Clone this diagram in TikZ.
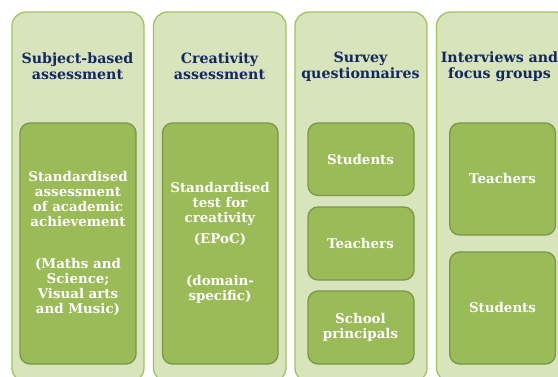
\documentclass[tikz,border=0pt]{standalone}
\usepackage{fontspec}
\setmainfont{DejaVu Serif}
\definecolor{outerfill}{HTML}{D8E4BC}
\definecolor{outerline}{HTML}{A3C162}
\definecolor{innerfill}{HTML}{9BBB59}
\definecolor{innerline}{HTML}{7A9646}
\definecolor{headtext}{HTML}{14285F}
\tikzset{
 x=1pt,y=-1pt,
 outerbox/.style={draw=outerline,fill=outerfill,line width=1.3pt,rounded corners=14pt},
 innerbox/.style={draw=innerline,fill=innerfill,line width=1.3pt,rounded corners=10pt},
 headlabel/.style={align=center,text=headtext,font=\fontsize{14.2}{16}\selectfont\bfseries,inner sep=0pt},
 innerlabel/.style={align=center,text=white,font=\fontsize{13.4}{15}\selectfont\bfseries,inner sep=0pt},
}
\begin{document}
\begin{tikzpicture}
\useasboundingbox (0,0) rectangle (558,376);
\clip (0,0) rectangle (558,376);
\fill[white] (0,0) rectangle (558,376);
\draw[outerbox] (12,12) rectangle (144,382);
\draw[outerbox] (153.5,12) rectangle (286,382);
\draw[outerbox] (295,12) rectangle (427,382);
\draw[outerbox] (436.5,12) rectangle (569,382);
\draw[innerbox] (20,123) rectangle (136,364);
\draw[innerbox] (162.5,123) rectangle (278,364);
\draw[innerbox] (308,123) rectangle (414,195.5);
\draw[innerbox] (308,207) rectangle (414,280);
\draw[innerbox] (308,291) rectangle (414,364);
\draw[innerbox] (449.7,123) rectangle (555.5,235);
\draw[innerbox] (449.7,252) rectangle (555.5,364);
\node[headlabel] (h1) at (77.5,66.5) {Subject-based\\assessment};
\node[headlabel] (h2) at (219.5,66.5) {Creativity\\assessment};
\node[headlabel] (h3) at (360.5,66.5) {Survey\\questionnaires};
\node[headlabel] (h4) at (499.5,66.5) {Interviews and\\focus groups};
\node[innerlabel] (t1) at (78,243) {Standardised\\assessment\\of academic\\achievement\\[27pt](Maths and\\Science;\\Visual arts\\and Music)};
\node[innerlabel] (t2) at (220,243) {Standardised\\test for\\creativity\\[6pt](EPoC)\\[27pt](domain-\\specific)};
\node[innerlabel] (t3) at (360.5,159) {Students};
\node[innerlabel] (t4) at (360.5,243) {Teachers};
\node[innerlabel] (t5) at (360.5,327.5) {School\\principals};
\node[innerlabel] (t6) at (502.5,178) {Teachers};
\node[innerlabel] (t7) at (502.5,307) {Students};
\end{tikzpicture}
\end{document}
